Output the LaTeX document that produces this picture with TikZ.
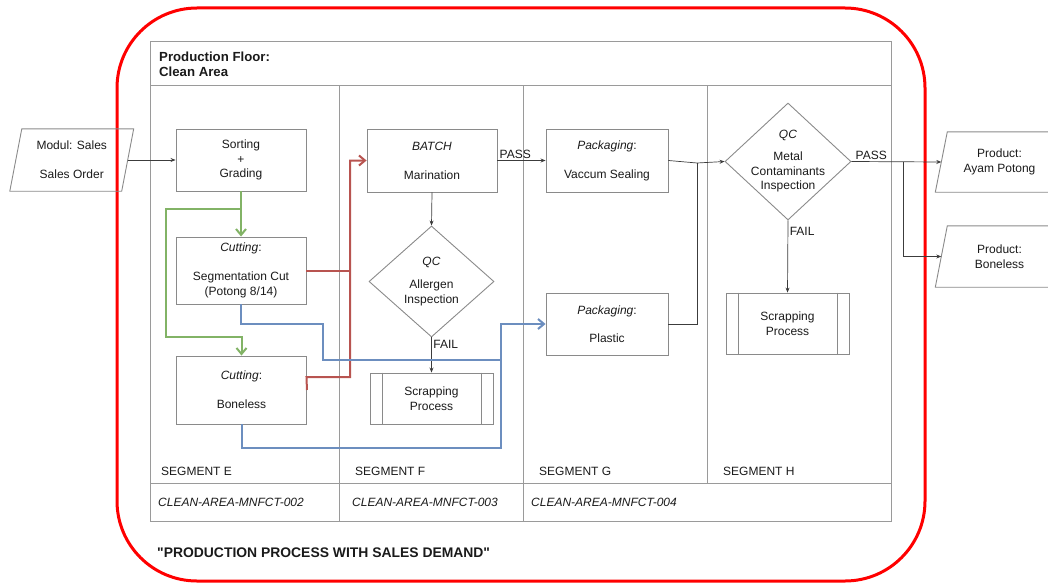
\documentclass[tikz,border=0pt]{standalone}
\usepackage{fontspec}
\setmainfont{Liberation Sans}
% family without the TeX quote mapping, for straight quotes
\newfontfamily\capfont{Liberation Sans}[Ligatures=ResetAll]
\usetikzlibrary{shapes.geometric,arrows.meta}
\definecolor{gridgray}{HTML}{9A9A9A}
\definecolor{boxgray}{HTML}{8A8A8A}
\definecolor{inkc}{HTML}{1A1A1A}
\definecolor{flowgreen}{HTML}{82B366}
\definecolor{flowred}{HTML}{B85450}
\definecolor{flowblue}{HTML}{6C8EBF}
\definecolor{framered}{HTML}{FF0000}

% parallelogram drawn around a rectangular node
\newcommand\drawpara[1]{%
  \draw[shapeline] ([xshift=-6pt]#1.south west) -- ([xshift=-6pt]#1.south east)
    -- ([xshift=6pt]#1.north east) -- ([xshift=6pt]#1.north west) -- cycle;}
% predefined-process bars
\newcommand\drawbars[1]{%
  \draw[shapeline] ([xshift=12.5pt]#1.north west) -- ([xshift=12.5pt]#1.south west);
  \draw[shapeline] ([xshift=-12pt]#1.north east) -- ([xshift=-12pt]#1.south east);}

\begin{document}
\begin{tikzpicture}[x=1pt,y=-1pt,
  font=\fontsize{12}{14.5}\selectfont, text=inkc,
  shapeline/.style={draw=boxgray, line width=0.9pt},
  procbox/.style={draw=boxgray, line width=0.9pt, rectangle, align=center, inner sep=0pt},
  parabox/.style={rectangle, align=center, inner sep=0pt},
  decision/.style={draw=boxgray, line width=0.9pt, diamond, inner sep=0pt},
  gridline/.style={draw=gridgray, line width=1pt},
  conn/.style={draw=inkc!85, line width=0.7pt, -{Stealth[length=5pt,width=4pt]}},
  plainconn/.style={draw=inkc!85, line width=0.7pt},
  flowarrow/.style={-{Straight Barb[length=6pt,width=10pt]}},
  greenl/.style={draw=flowgreen, line width=2pt},
  redl/.style={draw=flowred, line width=2pt},
  bluel/.style={draw=flowblue, line width=2pt},
  lbl/.style={inner sep=1.5pt, font=\fontsize{12}{14}\selectfont},
  seglbl/.style={anchor=west, inner sep=0pt},
  codelbl/.style={anchor=west, inner sep=0pt, font=\fontsize{12}{14}\selectfont\itshape},
  txt/.style={align=center, inner sep=0pt}
]
\useasboundingbox (0,0) rectangle (1048,583);

% outer red frame
\draw[framered, line width=3pt, rounded corners=80pt] (117,8) rectangle (925,581);

% swimlane grid
\draw[gridline] (150,42) rectangle (891,521);
\draw[gridline] (150,86) -- (891,86);
\draw[gridline] (150,483) -- (891,483);
\draw[gridline] (339,86) -- (339,521);
\draw[gridline] (523,86) -- (523,521);
\draw[gridline] (707,86) -- (707,483);

\node[anchor=west, align=left, inner sep=0pt, font=\fontsize{13.2}{14.5}\selectfont\bfseries] (title) at (159,64.5) {Production Floor:\\Clean Area};

\node[seglbl] (segE) at (161,471) {SEGMENT E};
\node[seglbl] (segF) at (355,471) {SEGMENT F};
\node[seglbl] (segG) at (539,471) {SEGMENT G};
\node[seglbl] (segH) at (723,471) {SEGMENT H};
\node[codelbl] (codeE) at (158,502) {CLEAN-AREA-MNFCT-002};
\node[codelbl] (codeF) at (352,502) {CLEAN-AREA-MNFCT-003};
\node[codelbl] (codeG) at (531,502) {CLEAN-AREA-MNFCT-004};
\node[anchor=west, inner sep=0pt, font=\capfont\fontsize{13.9}{15}\selectfont\bfseries] (caption) at (157,553) {"PRODUCTION PROCESS WITH SALES DEMAND"};

% input / output documents
\node[parabox, minimum width=111.5pt, minimum height=62pt] (sales) at (71.75,160) {Modul: Sales\\[14.5pt]Sales Order};
\drawpara{sales}
\node[parabox, minimum width=116pt, minimum height=60pt] (prod1) at (999.5,162) {Product:\\Ayam Potong};
\drawpara{prod1}
\node[parabox, minimum width=116pt, minimum height=61pt] (prod2) at (999.5,256.5) {Product:\\Boneless};
\drawpara{prod2}

% segment E
\node[procbox, minimum width=130pt, minimum height=62pt] (sort) at (241,160) {Sorting\\+\\Grading};
\node[procbox, minimum width=130pt, minimum height=67pt] (cut1) at (241,270.5) {\textit{Cutting}:\\[14.5pt]Segmentation Cut\\(Potong 8/14)};
\node[procbox, minimum width=130pt, minimum height=68pt] (cut2) at (241.5,390) {\textit{Cutting}:\\[14.5pt]Boneless};

% segment F
\node[procbox, minimum width=130pt, minimum height=63pt] (batch) at (432,160.5) {\textit{BATCH}\\[14.5pt]Marination};
\node[decision, minimum width=125pt, minimum height=111pt] (qc1) at (431.5,281.5) {};
\node[txt] (qc1t) at (qc1.center) {\textit{QC}\\[8.5pt]Allergen\\Inspection};
\node[procbox, minimum width=123pt, minimum height=51pt] (scrap1) at (431.5,398.5) {Scrapping\\Process};
\drawbars{scrap1}

% segment G
\node[procbox, minimum width=122pt, minimum height=63pt] (vac) at (607,160.5) {\textit{Packaging}:\\[14.5pt]Vaccum Sealing};
\node[procbox, minimum width=122pt, minimum height=62pt] (plastic) at (607,324) {\textit{Packaging}:\\[14pt]Plastic};

% segment H
\node[decision, minimum width=126pt, minimum height=117pt] (qc2) at (788,161.5) {};
\node[txt] (qc2t) at (qc2.center) {\textit{QC}\\[7.5pt]Metal\\Contaminants\\Inspection};
\node[procbox, minimum width=123pt, minimum height=61pt] (scrap2) at (787.5,323.5) {Scrapping\\Process};
\drawbars{scrap2}

% black connectors
\draw[conn] (sales.east) -- (sort.west);
\draw[conn] (batch.east) -- node[lbl, pos=0.37, anchor=south] (passF) {PASS} (vac.west);
\draw[conn] (batch.south) -- (qc1.north);
\draw[conn] (qc1.south) -- node[lbl, pos=0.2, anchor=west] (failF) {FAIL} (scrap1.north);
\draw[conn] (vac.east) -- (697,163) -- (qc2.west);
\draw[plainconn] (plastic.east) -- (697,324) -- (697,163);
\draw[conn] (qc2.east) -- node[lbl, pos=0.22, anchor=south] (passH) {PASS} (prod1.west);
\draw[conn] (903,161.5) -- (903,256.5) -- (prod2.west);
\draw[conn] (qc2.south) -- node[lbl, pos=0.15, anchor=west] (failH) {FAIL} (scrap2.north);

% green: sorting to both cutting lines
\draw[greenl, flowarrow] (sort.south) -- (cut1.north);
\draw[greenl, flowarrow] (241,209) -- (166,209) -- (166,337) -- (241.5,337) -- (cut2.north);

% red: cutting to marination
\draw[redl] (cut1.east) -- (350,270.5);
\draw[redl, flowarrow] (cut2.east) -- (306.5,377) -- (350,377) -- (350,160.5) -- (batch.west);

% blue: cutting to plastic packaging
\draw[bluel] (cut1.south) -- (241,324) -- (323,324) -- (323,360) -- (501,360);
\draw[bluel, flowarrow] (cut2.south) -- (241.5,448) -- (501,448) -- (501,324) -- (plastic.west);

\end{tikzpicture}
\end{document}
